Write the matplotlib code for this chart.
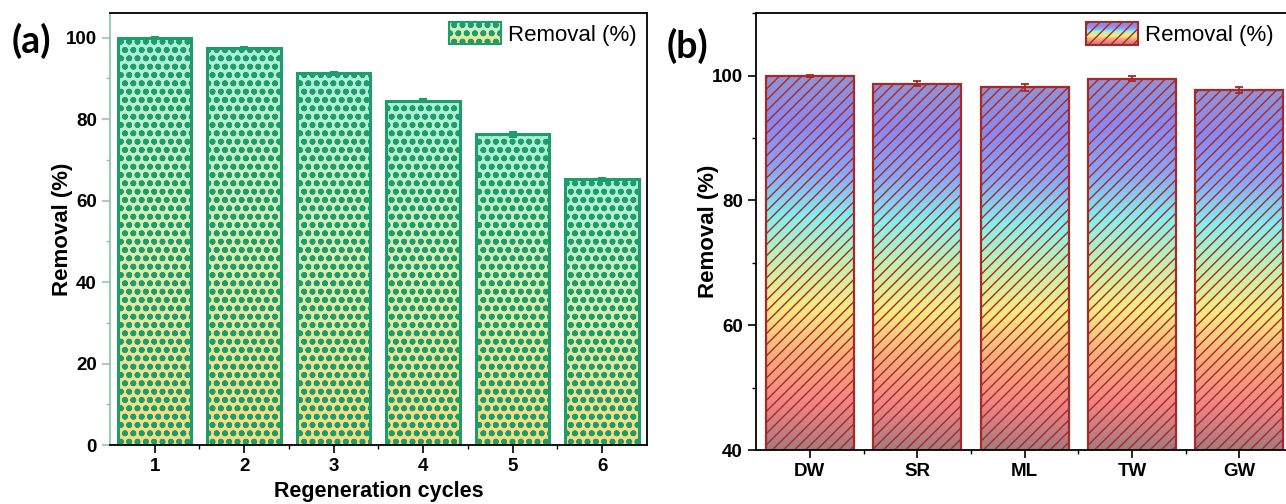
import numpy as np
import matplotlib
matplotlib.use('Agg')
import matplotlib.pyplot as plt
from matplotlib.colors import LinearSegmentedColormap
from matplotlib.patches import Rectangle, Patch
from matplotlib.legend_handler import HandlerBase
from matplotlib.ticker import MultipleLocator

plt.rcParams['font.family'] = ['Liberation Sans', 'DejaVu Sans']
plt.rcParams['hatch.linewidth'] = 1.0

# Data
cycles = [1, 2, 3, 4, 5, 6]
removal_a = [99.9, 97.5, 91.2, 84.5, 76.3, 65.2]
err_a = [0.2, 0.3, 0.3, 0.3, 0.6, 0.3]

waters = ['DW', 'SR', 'ML', 'TW', 'GW']
removal_b = [99.9, 98.7, 98.1, 99.5, 97.7]
err_b = [0.2, 0.4, 0.5, 0.4, 0.5]

# Colours
green_edge = '#1f9c6c'
red_edge = '#a52a2a'
cmap_a = LinearSegmentedColormap.from_list('mint', ['#f7dc80', '#d8efb2', '#a8f2da'])
cmap_b = LinearSegmentedColormap.from_list('rb', ['#a27c80', '#f28484', '#f8ac7a', '#f8ea82',
                                                  '#c4f0ae', '#82f0f0', '#8aa4f6', '#8a88f0', '#9492d2'])


def hatch_lw(artist, lw):
    """hatch linewidth is read at draw time -> wrap draw"""
    if hasattr(artist, 'set_hatch_linewidth'):
        artist.set_hatch_linewidth(lw)
    orig = artist.draw

    def draw(renderer):
        with plt.rc_context({'hatch.linewidth': lw}):
            orig(renderer)
    artist.draw = draw


class GradientHandler(HandlerBase):
    """legend box with vertical gradient + hatch"""
    def __init__(self, cmap, hatch, edge, lw, hlw):
        super().__init__()
        self.cmap, self.hatch, self.edge, self.lw, self.hlw = cmap, hatch, edge, lw, hlw

    def create_artists(self, legend, orig_handle, xdescent, ydescent, width, height, fontsize, trans):
        arts = []
        n = 24
        for i in range(n):
            r = Rectangle((-xdescent, -ydescent + i * height / n), width, height / n * 1.05,
                          facecolor=self.cmap(i / (n - 1)), edgecolor='none', transform=trans)
            arts.append(r)
        r = Rectangle((-xdescent, -ydescent), width, height, facecolor='none',
                      edgecolor=self.edge, hatch=self.hatch, lw=self.lw, transform=trans)
        hatch_lw(r, self.hlw)
        arts.append(r)
        return arts


def gradient_bars(ax, bars, cmap, hlw):
    grad = np.linspace(0, 1, 256).reshape(-1, 1)
    ymin = ax.get_ylim()[0]
    for b in bars:
        hatch_lw(b, hlw)
        x0, y0 = b.get_x(), max(b.get_y(), ymin)
        w, top = b.get_width(), b.get_y() + b.get_height()
        im = ax.imshow(grad, cmap=cmap, origin='lower', extent=[x0, x0 + w, y0, top],
                       aspect='auto', zorder=1, interpolation='bilinear')
        im.set_clip_path(b)


def style_axes(ax):
    ax.tick_params(which='major', direction='out', length=6, width=1.2, labelsize=13.5)
    ax.tick_params(which='minor', direction='out', length=3, width=1.0)
    for lab in ax.get_xticklabels() + ax.get_yticklabels():
        lab.set_fontweight('bold')
    for s in ax.spines.values():
        s.set_linewidth(1.3)


fig = plt.figure(figsize=(12.86, 5.04), dpi=100)

# (a) regeneration cycles
ax1 = fig.add_axes([0.0855, 0.117, 0.4175, 0.857])
ax1.set_xlim(0.5, 6.5)
ax1.set_ylim(0, 106)
bars_a = ax1.bar(cycles, removal_a, width=0.82, facecolor='none', edgecolor=green_edge,
                 lw=2.2, hatch='oo', zorder=2)
gradient_bars(ax1, bars_a, cmap_a, 1.8)
ax1.errorbar(cycles, removal_a, yerr=err_a, fmt='none', ecolor=green_edge, elinewidth=1.5,
             capsize=3, capthick=1.5, zorder=3)
ax1.set_xlim(0.5, 6.5)
ax1.set_ylim(0, 106)
ax1.set_xticks(cycles)
ax1.set_xticks([1.5, 2.5, 3.5, 4.5, 5.5], minor=True)
ax1.yaxis.set_major_locator(MultipleLocator(20))
ax1.yaxis.set_minor_locator(MultipleLocator(10))
style_axes(ax1)
ax1.spines['left'].set_color('#8cc8ae')
ax1.tick_params(axis='y', which='both', color='#8cc8ae')
ax1.set_xlabel('Regeneration cycles', fontsize=15.5, fontweight='bold', labelpad=4.5)
ax1.set_ylabel('Removal (%)', fontsize=16, fontweight='bold')
ax1.yaxis.set_label_coords(-0.068, 0.5)
proxy_a = Patch(label='Removal (%)')
ax1.legend(handles=[proxy_a], loc='upper right', bbox_to_anchor=(0.997, 1.0), frameon=False,
           fontsize=16, handlelength=2.35, handleheight=1.15, handletextpad=0.3, borderaxespad=0,
           handler_map={proxy_a: GradientHandler(cmap_a, 'oo', green_edge, 1.5, 1.8)})
fig.text(0.009, 0.955, '(a)', fontsize=27, fontweight='bold', family='Lato', va='top')

# (b) water matrices
ax2 = fig.add_axes([0.588, 0.107, 0.4175, 0.867])
ax2.set_xlim(0.5, 5.5)
ax2.set_ylim(40, 110)
xb = np.arange(1, len(waters) + 1)
bars_b = ax2.bar(xb, removal_b, width=0.82, facecolor='none', edgecolor=red_edge,
                 lw=1.6, hatch='///', zorder=2)
gradient_bars(ax2, bars_b, cmap_b, 1.0)
ax2.errorbar(xb, removal_b, yerr=err_b, fmt='none', ecolor=red_edge, elinewidth=1.3,
             capsize=3, capthick=1.3, zorder=3)
ax2.set_xlim(0.5, 5.5)
ax2.set_ylim(40, 110)
ax2.set_xticks(xb)
ax2.set_xticklabels(waters)
ax2.set_xticks([1.5, 2.5, 3.5, 4.5], minor=True)
ax2.set_yticks([40, 60, 80, 100])
ax2.yaxis.set_minor_locator(MultipleLocator(10))
style_axes(ax2)
ax2.set_ylabel('Removal (%)', fontsize=16, fontweight='bold')
ax2.yaxis.set_label_coords(-0.07, 0.5)
proxy_b = Patch(label='Removal (%)')
ax2.legend(handles=[proxy_b], loc='upper right', bbox_to_anchor=(0.98, 1.0), frameon=False,
           fontsize=16, handlelength=2.35, handleheight=1.2, handletextpad=0.3, borderaxespad=0,
           handler_map={proxy_b: GradientHandler(cmap_b, '///', red_edge, 1.5, 1.0)})
fig.text(0.518, 0.945, '(b)', fontsize=27, fontweight='bold', family='Lato', va='top')

fig.savefig('out.png', dpi=100)
